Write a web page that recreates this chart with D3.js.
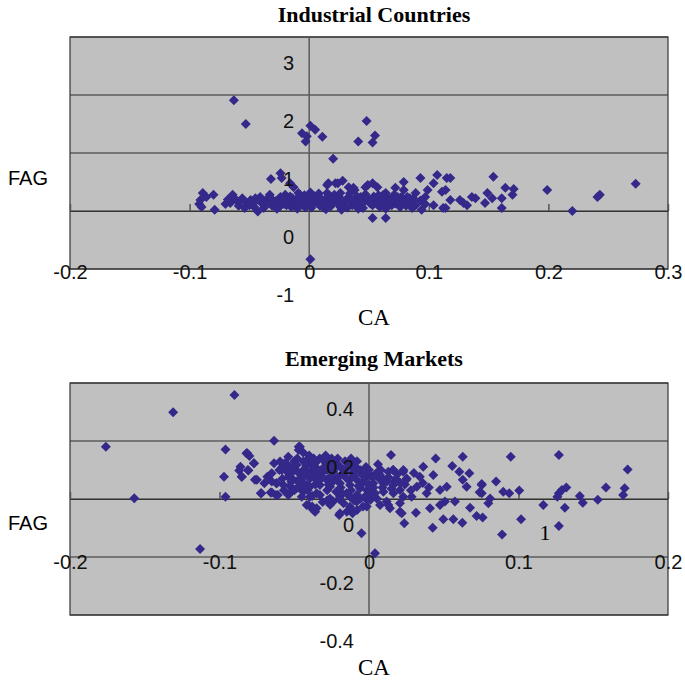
<!DOCTYPE html>
<html>
<head>
<meta charset="utf-8">
<script src="https://cdn.jsdelivr.net/npm/d3@7"></script>
<style>
  body { margin: 0; background: #fff; }
</style>
</head>
<body>
<script>
const width = 685;
const height = 680;

// Industrial countries: [CA, FAG]
const industrialPoints = [
  [-0.063, 1.91], [-0.053, 1.50], [0.001, 1.47], [-0.006, 1.34], [-0.002, 1.29], [-0.003, 1.20],
  [0.005, 1.40], [0.011, 1.28], [0.020, 0.90], [0.048, 1.55], [0.041, 1.20], [0.055, 1.30],
  [0.053, 1.18], [0.001, -0.83], [-0.032, 0.55], [-0.024, 0.65], [-0.023, 0.57], [-0.016, 0.48],
  [-0.089, 0.31], [-0.080, 0.28], [-0.091, 0.19], [-0.090, 0.07], [-0.079, 0.02], [-0.086, 0.24],
  [-0.092, 0.12], [-0.064, 0.28], [-0.066, 0.14], [-0.056, 0.22], [-0.052, 0.14], [-0.043, -0.01],
  [-0.041, 0.24], [-0.033, 0.28], [-0.013, 0.41], [-0.009, 0.31], [0.001, 0.32],
  [-0.061, 0.19], [-0.059, 0.09], [-0.049, 0.19], [-0.046, 0.07], [-0.039, 0.12], [-0.036, 0.19],
  [-0.031, 0.09], [-0.028, 0.17], [-0.024, 0.24], [-0.021, 0.12], [-0.018, 0.21], [-0.015, 0.07],
  [-0.012, 0.16], [-0.008, 0.22], [-0.005, 0.10], [-0.002, 0.19], [0.003, 0.14], [0.006, 0.22],
  [0.009, 0.09], [0.013, 0.17], [0.016, 0.26], [0.019, 0.12], [0.023, 0.21], [0.026, 0.07],
  [0.029, 0.16], [0.033, 0.24], [0.036, 0.10], [0.039, 0.19], [0.043, 0.09], [0.046, 0.16],
  [0.049, 0.22], [0.053, 0.10], [0.056, 0.17], [0.059, 0.07], [0.063, 0.14], [0.066, 0.22],
  [0.069, 0.10], [0.073, 0.17], [0.076, 0.07], [0.080, 0.14], [0.084, 0.22], [0.089, 0.10],
  [-0.045, 0.22], [-0.038, 0.05], [-0.027, 0.04], [-0.020, 0.28], [-0.010, 0.04], [-0.004, 0.27],
  [0.002, 0.06], [0.008, 0.30], [0.014, 0.03], [0.021, 0.28], [0.027, 0.02], [0.034, 0.30],
  [0.041, 0.04], [0.047, 0.29], [0.058, 0.27], [0.064, 0.04], [0.071, 0.28], [0.078, 0.20],
  [0.086, 0.05], [0.093, 0.18], [0.097, 0.12],
  [-0.050, 0.10], [-0.034, 0.14], [-0.017, 0.16], [-0.007, 0.13], [0.005, 0.18], [0.011, 0.12],
  [0.017, 0.20], [0.024, 0.13], [0.031, 0.19], [0.038, 0.14], [0.044, 0.21], [0.051, 0.13],
  [0.061, 0.18], [0.068, 0.15], [-0.026, 0.20], [-0.014, 0.22], [0.000, 0.24], [-0.040, 0.17],
  [-0.057, 0.17], [-0.063, 0.22],
  [-0.070, 0.12], [-0.068, 0.20], [-0.054, 0.05], [-0.047, 0.13], [-0.043, 0.20], [-0.037, 0.09],
  [-0.032, 0.22], [-0.029, 0.12], [-0.025, 0.07], [-0.022, 0.18], [-0.019, 0.10], [-0.016, 0.25],
  [-0.011, 0.20], [-0.009, 0.09], [-0.006, 0.17], [-0.003, 0.06], [0.001, 0.12], [0.004, 0.26],
  [0.007, 0.14], [0.010, 0.21], [0.012, 0.06], [0.015, 0.15], [0.018, 0.08], [0.021, 0.17],
  [0.025, 0.24], [0.028, 0.11], [0.032, 0.06], [0.035, 0.17], [0.040, 0.25], [0.042, 0.12],
  [0.045, 0.05], [0.050, 0.18], [0.054, 0.25], [0.057, 0.12], [0.060, 0.21], [0.065, 0.09],
  [0.067, 0.18], [0.072, 0.13], [0.077, 0.24], [0.081, 0.09],
  [0.015, 0.45], [0.022, 0.48], [0.028, 0.52], [0.037, 0.40], [0.047, 0.41], [0.053, 0.48],
  [0.016, 0.48], [0.024, 0.48], [0.033, 0.41], [0.038, 0.36], [0.015, 0.31], [0.049, 0.45],
  [0.057, 0.41], [0.072, 0.40], [0.079, 0.50], [0.079, 0.36], [0.093, 0.57], [0.107, 0.62],
  [0.104, 0.48], [0.115, 0.57], [0.111, 0.33], [0.089, 0.31], [0.097, 0.24], [0.094, 0.02],
  [0.104, 0.10], [0.112, 0.05], [0.053, -0.12], [0.064, -0.12], [0.064, 0.31], [0.069, 0.19],
  [0.086, 0.14], [0.082, 0.24], [0.026, 0.31], [0.043, 0.24], [0.062, 0.28], [0.074, 0.24],
  [0.087, 0.22], [0.099, 0.36],
  [0.118, 0.57], [0.114, 0.36], [0.118, 0.19], [0.126, 0.19], [0.129, 0.14], [0.132, 0.10],
  [0.136, 0.24], [0.139, 0.22], [0.114, 0.05], [0.154, 0.59], [0.149, 0.31], [0.147, 0.14],
  [0.153, 0.22], [0.161, 0.22], [0.161, 0.05], [0.164, 0.40], [0.171, 0.38], [0.170, 0.28],
  [0.199, 0.36], [0.220, 0.00], [0.241, 0.24], [0.243, 0.28], [0.273, 0.47]
];

// Emerging markets: [CA, FAG]
const emergingPoints = [
  [-0.090, 0.359], [-0.131, 0.299], [-0.176, 0.180], [-0.157, 0.003], [-0.113, -0.172],
  [-0.096, 0.171], [-0.097, 0.077], [-0.096, 0.008], [-0.0635, 0.201], [-0.086, 0.111],
  [-0.085, 0.077], [-0.081, 0.100], [-0.082, 0.158], [-0.080, 0.148], [-0.077, 0.123],
  [-0.075, 0.066], [-0.072, 0.020], [-0.065, 0.022], [-0.061, 0.014], [-0.054, 0.146],
  [-0.047, 0.169], [-0.047, 0.180], [-0.070, 0.054], [-0.005, -0.118], [-0.020, -0.055],
  [-0.036, -0.044], [-0.038, -0.026], [-0.011, -0.049], [0.004, -0.187], [-0.068, 0.077],
  [-0.062, 0.054], [-0.053, 0.020], [-0.044, 0.054], [-0.037, 0.123], [-0.028, 0.100],
  [-0.022, 0.123], [-0.013, 0.066], [-0.006, 0.100], [-0.004, -0.026], [0.001, -0.003],
  [-0.0635, 0.123], [-0.0595, 0.129], [-0.0651, 0.089], [-0.0584, 0.100], [-0.054, 0.077],
  [-0.0528, 0.111], [-0.0484, 0.117], [-0.0439, 0.129], [-0.0395, 0.123], [-0.0361, 0.111],
  [-0.0462, 0.089], [-0.0417, 0.094], [-0.0373, 0.077], [-0.0506, 0.066], [-0.0462, 0.054],
  [-0.0417, 0.048], [-0.0573, 0.048], [-0.054, 0.014], [-0.0484, 0.037], [-0.0439, 0.025],
  [-0.0395, 0.008], [-0.045, 0.008], [-0.0406, -0.021], [-0.0373, -0.038], [-0.0617, 0.054],
  [-0.0622, 0.014], [-0.0658, 0.022], [-0.0724, 0.020], [-0.0763, 0.066], [-0.0852, 0.077],
  [-0.0868, 0.098], [-0.0807, 0.098], [-0.0814, 0.158], [-0.0769, 0.123],
  [0.0147, 0.152], [-0.0462, 0.180], [-0.0361, 0.123], [-0.0417, 0.134], [-0.0439, 0.100],
  [-0.0373, 0.089], [-0.0306, 0.094], [-0.0239, 0.094], [-0.0172, 0.100], [-0.0105, 0.106],
  [-0.006, 0.094], [-0.0015, 0.077], [0.0018, 0.077], [0.0074, 0.083], [0.0129, 0.094],
  [0.0163, 0.100], [0.0229, 0.094], [0.0252, 0.071], [0.0029, 0.054], [0.0096, 0.054],
  [0.0163, 0.048], [0.0207, 0.031], [0.0229, 0.008], [-0.0439, 0.054], [-0.0395, 0.042],
  [-0.0328, 0.048], [-0.0261, 0.042], [-0.0194, 0.054], [-0.0127, 0.048], [-0.006, 0.037],
  [-0.0015, 0.031], [-0.0328, 0.014], [-0.0261, 0.002], [-0.0194, 0.008], [-0.0127, 0.008],
  [-0.0082, -0.009], [-0.0015, -0.003], [0.0052, 0.002], [0.0118, -0.009], [-0.0417, -0.021],
  [-0.035, -0.032], [-0.0239, -0.009], [-0.0194, -0.049], [-0.0127, -0.027], [-0.0105, -0.044],
  [0.0074, -0.021], [0.014, -0.032], [0.0207, -0.044], [-0.0328, 0.071], [-0.0283, 0.066],
  [-0.0216, 0.066], [-0.0149, 0.071], [-0.0082, 0.066], [-0.0395, 0.071], [0.0096, 0.025],
  [0.0163, 0.020],
  [-0.058, 0.110], [-0.052, 0.090], [-0.046, 0.072], [-0.042, 0.115], [-0.038, 0.100],
  [-0.033, 0.085], [-0.027, 0.118], [-0.024, 0.060], [-0.019, 0.040], [-0.016, 0.090],
  [-0.012, 0.030], [-0.009, 0.110], [-0.005, 0.050], [-0.001, 0.090], [0.003, 0.040],
  [0.007, 0.070], [0.012, 0.060], [0.015, 0.035], [0.019, 0.085], [0.024, 0.050],
  [0.028, 0.030], [0.030, 0.090], [0.036, 0.055], [0.040, 0.040], [-0.031, -0.010],
  [-0.026, -0.020], [-0.017, -0.015], [-0.010, -0.005], [-0.045, 0.030], [-0.053, 0.045],
  [-0.060, 0.100], [-0.048, 0.140], [-0.040, 0.150], [-0.033, 0.140], [-0.025, 0.140],
  [-0.016, 0.130], [-0.008, 0.130], [0.000, 0.100], [0.008, 0.100], [-0.065, 0.060],
  [-0.056, 0.125], [-0.051, 0.105], [-0.047, 0.060], [-0.043, 0.080], [-0.041, 0.030],
  [-0.036, 0.050], [-0.034, 0.100], [-0.031, 0.075], [-0.029, 0.125], [-0.027, 0.050],
  [-0.023, 0.105], [-0.021, 0.075], [-0.018, 0.020], [-0.014, 0.110], [-0.011, 0.090],
  [-0.007, 0.045], [-0.004, 0.080], [0.000, 0.050], [0.002, 0.020], [0.005, 0.090],
  [0.009, 0.040], [0.013, 0.075], [0.017, 0.060], [0.021, 0.055], [-0.044, 0.160],
  [-0.037, 0.140], [-0.029, 0.150], [-0.021, 0.140], [-0.012, 0.140], [-0.057, 0.030],
  [-0.052, 0.060], [-0.038, 0.010], [-0.028, -0.005], [-0.020, 0.000], [-0.006, 0.000],
  [0.0446, 0.140], [0.0627, 0.146], [0.0948, 0.146], [0.127, 0.152], [0.173, 0.102],
  [0.0557, 0.114], [0.0604, 0.094], [0.0671, 0.089], [0.0627, 0.066], [0.0653, 0.042],
  [0.0754, 0.048], [0.085, 0.060], [0.0898, 0.025], [0.1005, 0.029], [0.0938, 0.020],
  [0.0754, 0.020], [0.081, 0.002], [0.0798, -0.015], [0.0676, -0.030], [0.072, -0.059],
  [0.076, -0.064], [0.1017, -0.070], [0.089, -0.122], [0.1166, -0.021], [0.127, 0.020],
  [0.129, 0.031], [0.132, 0.040], [0.131, -0.030], [0.141, 0.010], [0.143, -0.013],
  [0.153, -0.003], [0.1585, 0.040], [0.171, 0.037], [0.170, 0.014], [0.127, -0.093],
  [0.0624, -0.082], [0.0564, -0.070], [0.0497, -0.070], [0.0426, -0.099], [0.0236, -0.084],
  [0.0219, -0.049], [0.0314, -0.047], [0.0408, -0.032], [0.0475, -0.021], [0.0508, -0.009],
  [0.0575, -0.009], [0.0363, 0.111], [0.034, 0.077], [0.043, 0.083], [0.023, 0.100],
  [0.016, 0.100], [0.003, 0.077], [0.025, 0.066], [0.032, 0.042], [0.0386, 0.020],
  [0.0475, 0.031], [0.052, 0.042], [0.0285, 0.008], [0.0207, -0.015], [0.0129, -0.021],
  [-0.0015, -0.026], [-0.008, -0.038], [-0.0149, -0.044], [0.126, 0.008], [0.074, 0.023],
  [0.0754, 0.052],
  [-0.030, 0.110], [-0.025, 0.080], [-0.018, 0.085], [-0.010, 0.080], [-0.004, 0.060],
  [-0.034, 0.060], [-0.028, 0.030], [-0.022, 0.025], [-0.015, 0.020], [-0.008, 0.015],
  [-0.002, 0.012], [0.004, 0.020], [-0.048, 0.095], [-0.055, 0.095], [-0.050, 0.130],
  [-0.030, 0.135], [-0.020, 0.115], [-0.012, 0.125], [-0.002, 0.110], [0.006, 0.120],
  [-0.058, 0.070], [-0.050, 0.030], [-0.035, 0.020], [0.010, 0.065], [0.018, 0.070]
];

const industrialXTicks = [-0.2, -0.1, 0, 0.1, 0.2, 0.3];
const industrialYTicks = [-1, 0, 1, 2, 3];
const emergingXTicks = [-0.2, -0.1, 0, 0.1, 0.2];
const emergingYTicks = [-0.4, -0.2, 0, 0.2, 0.4];

const markerColor = "#34298a";
const sansFont = "'Liberation Sans', Arial, sans-serif";
const serifFont = "'Liberation Serif', 'Times New Roman', serif";

let svg = d3
  .select("body")
  .append("svg")
  .attr("width", width)
  .attr("height", height);

const plotLeft = 70;
const plotRight = 668;

function drawPanel(p) {
  let x = d3.scaleLinear().domain(p.xDomain).range([plotLeft, plotRight]);
  let y = d3.scaleLinear().domain(p.yDomain).range([p.bottom, p.top]);
  let g = svg.append("g");

  // grey plot area
  g.append("rect")
    .attr("x", plotLeft)
    .attr("y", p.top)
    .attr("width", plotRight - plotLeft)
    .attr("height", p.bottom - p.top)
    .attr("fill", "#c0c0c0");

  // horizontal gridlines
  g.selectAll("line.grid")
    .data(p.yTicks)
    .join("line")
    .attr("class", "grid")
    .attr("x1", plotLeft)
    .attr("x2", plotRight)
    .attr("y1", (d) => y(d))
    .attr("y2", (d) => y(d))
    .attr("stroke", "#2a2a2a")
    .attr("stroke-width", 1.2);

  // border
  g.append("rect")
    .attr("x", plotLeft)
    .attr("y", p.top)
    .attr("width", plotRight - plotLeft)
    .attr("height", p.bottom - p.top)
    .attr("fill", "none")
    .attr("stroke", "#333")
    .attr("stroke-width", 1.2);

  // vertical axis line at CA = 0
  g.append("line")
    .attr("x1", x(0))
    .attr("x2", x(0))
    .attr("y1", p.top)
    .attr("y2", p.bottom)
    .attr("stroke", "#5a5a5a")
    .attr("stroke-width", 1.5);

  // x axis crossing at FAG = 0, ticks pointing up
  let xAxisG = g.append("g").attr("transform", `translate(0, ${y(0)})`);
  d3.axisTop(x).tickValues(p.xTicks).tickSize(7).tickSizeOuter(0).tickFormat("")(xAxisG);
  xAxisG.select(".domain").attr("stroke", "#333").attr("stroke-width", 1.2);
  xAxisG.selectAll(".tick line").attr("stroke", "#555").attr("stroke-width", 1.5);

  // points (diamonds)
  g.selectAll("path.pt")
    .data(p.points)
    .join("path")
    .attr("class", "pt")
    .attr("d", "M0,-5L5,0L0,5L-5,0Z")
    .attr("transform", (d) => `translate(${x(d[0])},${y(d[1])})`)
    .attr("fill", markerColor);

  // y tick labels, shifted below their gridlines as in the original
  let yLabelG = g.append("g").attr("transform", `translate(${x(0)}, 0)`);
  d3.axisLeft(y).tickValues(p.yTicks).tickSize(0).tickPadding(15).tickFormat((d) => String(d))(yLabelG);
  yLabelG.select(".domain").remove();
  yLabelG
    .attr("font-family", sansFont)
    .attr("font-size", 20)
    .selectAll("text")
    .attr("fill", "#111")
    .attr("y", 25)
    .attr("dy", "0.35em");

  // x tick labels
  let xLabelG = g.append("g").attr("transform", `translate(0, ${y(p.xLabelAt)})`);
  d3.axisBottom(x).tickValues(p.xTicks).tickSize(0).tickFormat((d) => String(d))(xLabelG);
  xLabelG.select(".domain").remove();
  xLabelG
    .attr("font-family", sansFont)
    .attr("font-size", 20)
    .selectAll("text")
    .attr("fill", "#111")
    .attr("y", p.xLabelOffset)
    .attr("dy", "0.35em");

  // title
  svg.append("text")
    .attr("x", 374)
    .attr("y", p.titleY)
    .attr("text-anchor", "middle")
    .attr("font-family", serifFont)
    .attr("font-weight", "bold")
    .attr("font-size", 22)
    .text(p.title);

  // axis titles
  svg.append("text")
    .attr("x", 8)
    .attr("y", p.fagY)
    .attr("font-family", sansFont)
    .attr("font-size", 20)
    .text("FAG");

  svg.append("text")
    .attr("x", 374)
    .attr("y", p.caY)
    .attr("text-anchor", "middle")
    .attr("font-family", serifFont)
    .attr("font-size", 23)
    .text("CA");
}

drawPanel({
  title: "Industrial Countries",
  points: industrialPoints,
  xDomain: [-0.2, 0.3],
  yDomain: [-1, 3],
  xTicks: industrialXTicks,
  yTicks: industrialYTicks,
  top: 37,
  bottom: 269,
  xLabelAt: -1,
  xLabelOffset: 3,
  titleY: 22,
  fagY: 185,
  caY: 325
});

drawPanel({
  title: "Emerging Markets",
  points: emergingPoints,
  xDomain: [-0.2, 0.2],
  yDomain: [-0.4, 0.4],
  xTicks: emergingXTicks,
  yTicks: emergingYTicks,
  top: 383,
  bottom: 615,
  xLabelAt: -0.2,
  xLabelOffset: 5,
  titleY: 366,
  fagY: 530,
  caY: 675
});

// stray "1" label in the emerging markets panel
svg.append("text")
  .attr("x", 545)
  .attr("y", 540)
  .attr("text-anchor", "middle")
  .attr("font-family", serifFont)
  .attr("font-size", 22)
  .text("1");
</script>
</body>
</html>
